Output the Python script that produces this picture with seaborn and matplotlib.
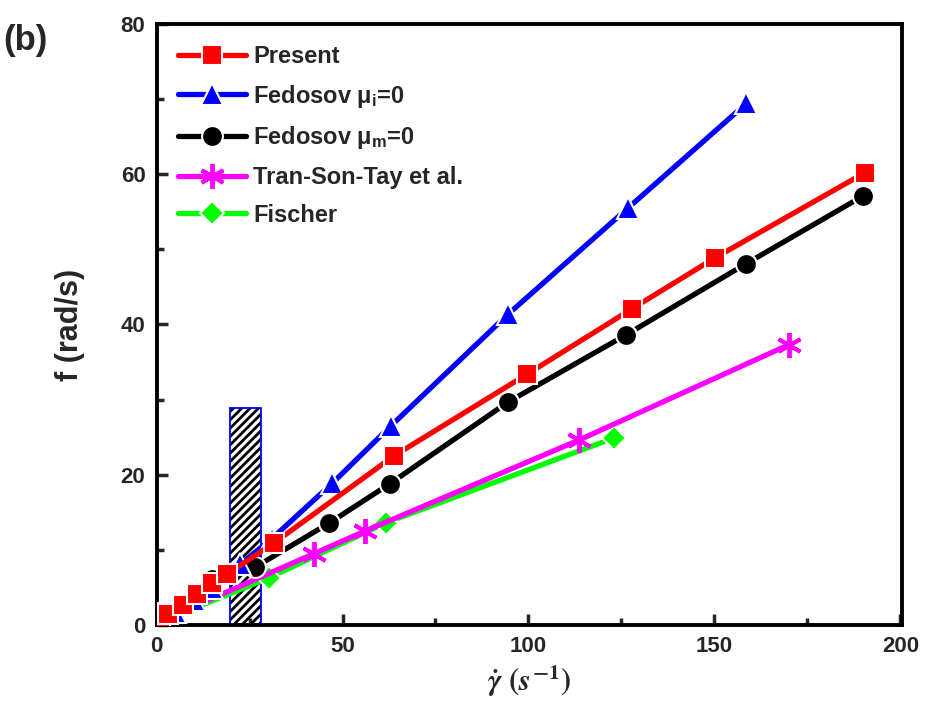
import matplotlib
matplotlib.use("Agg")
import matplotlib.pyplot as plt
import seaborn as sns
import numpy as np
from matplotlib.patches import Rectangle
from matplotlib.ticker import MultipleLocator

sns.set_theme(style="white")
plt.rcParams['font.family'] = ['Liberation Sans', 'DejaVu Sans']
plt.rcParams['font.weight'] = 'bold'
plt.rcParams['mathtext.fontset'] = 'custom'
plt.rcParams['mathtext.rm'] = 'Liberation Sans:bold'
plt.rcParams['mathtext.it'] = 'Liberation Sans:bold'
plt.rcParams['mathtext.bf'] = 'Liberation Sans:bold'
plt.rcParams['hatch.linewidth'] = 2.0

# Data
present_x = [1, 3, 7, 11, 15, 19, 31.5, 63.8, 99.7, 127.9, 150.3, 190.5]
present_y = [0.9, 1.5, 2.7, 4.1, 5.6, 6.8, 10.9, 22.5, 33.4, 42.1, 48.9, 60.2]

fed_i_x = [1, 5, 10, 15, 22.5, 31, 47.3, 63, 94.6, 126.8, 158.6]
fed_i_y = [0.6, 1.7, 3.3, 5.0, 8.1, 11.5, 18.9, 26.5, 41.4, 55.5, 69.4]

fed_m_x = [1.4, 7.3, 14.9, 26.5, 46.5, 62.7, 94.6, 126.2, 158.6, 190]
fed_m_y = [1.8, 2.8, 6.2, 7.7, 13.6, 18.8, 29.7, 38.6, 48.1, 57.1]

tst_x = [0.5, 42.3, 56, 113.5, 170]
tst_y = [0.4, 9.5, 12.5, 24.6, 37.3]

fis_x = [1, 30.3, 61.6, 123]
fis_y = [0.4, 6.3, 13.6, 24.9]

labels = ["Present", "Fedosov μ$_{\\mathrm{i}}$=0", "Fedosov μ$_{\\mathrm{m}}$=0",
          "Tran-Son-Tay et al.", "Fischer"]

fig = plt.figure(figsize=(9.32, 7.21), dpi=100)
ax = fig.add_axes([0.168, 0.133, 0.800, 0.834])

# hatched region: black hatch, blue outline
ax.add_patch(Rectangle((19.7, 0), 8.4, 28.9, facecolor='none', edgecolor='black',
                       hatch='////', linewidth=0, zorder=1))
ax.add_patch(Rectangle((19.7, 0), 8.4, 28.9, facecolor='none', edgecolor='blue',
                       linewidth=1.3, zorder=1.1))

series = [
    (fis_x, fis_y, labels[4], '#00ff00', 'D', 12),
    (tst_x, tst_y, labels[3], '#ff00ff', (6, 2, 0), 18),
    (fed_m_x, fed_m_y, labels[2], 'black', 'o', 15),
    (fed_i_x, fed_i_y, labels[1], 'blue', '^', 16),
    (present_x, present_y, labels[0], 'red', 's', 14),
]
for i, (xs, ys, lab, col, mk, ms) in enumerate(series):
    star = (mk == (6, 2, 0))
    sns.lineplot(x=xs, y=ys, ax=ax, color=col, marker=mk, markersize=ms,
                 linewidth=3.8, markeredgecolor=col if star else 'white',
                 markeredgewidth=2.8 if star else 1.5,
                 sort=False, estimator=None, label=lab, zorder=3 + i)

ax.set_xlim(0, 200.5)
ax.set_ylim(0, 80)
ax.xaxis.set_major_locator(MultipleLocator(50))
ax.xaxis.set_minor_locator(MultipleLocator(25))
ax.yaxis.set_major_locator(MultipleLocator(20))
ax.yaxis.set_minor_locator(MultipleLocator(10))
ax.tick_params(which='both', direction='in', bottom=True, left=True, top=False, right=False,
               labelsize=16, width=2.5, pad=8)
ax.tick_params(which='major', length=8)
ax.tick_params(which='minor', length=5)
for lab in ax.get_xticklabels() + ax.get_yticklabels():
    lab.set_fontweight('bold')
for sp in ax.spines.values():
    sp.set_linewidth(2.8)
    sp.set_color('black')

ax.set_ylabel('f (rad/s)', fontsize=22, fontweight='bold', labelpad=26)
ax.set_xlabel(r'$\dot{\gamma}\ (s^{-1})$', fontsize=22, math_fontfamily='stix', labelpad=4)

handles, labs = ax.get_legend_handles_labels()
order = [labs.index(l) for l in labels]
leg = ax.legend([handles[k] for k in order], [labs[k] for k in order],
                loc='upper left', bbox_to_anchor=(0.0, 1.0), frameon=False,
                fontsize=17, handlelength=2.9, labelspacing=0.62, handletextpad=0.3,
                borderaxespad=0.5)
for t in leg.get_texts():
    t.set_fontweight('bold')

fig.text(0.003, 0.93, '(b)', fontsize=25, fontweight='bold')

fig.savefig('out.png', dpi=100)
